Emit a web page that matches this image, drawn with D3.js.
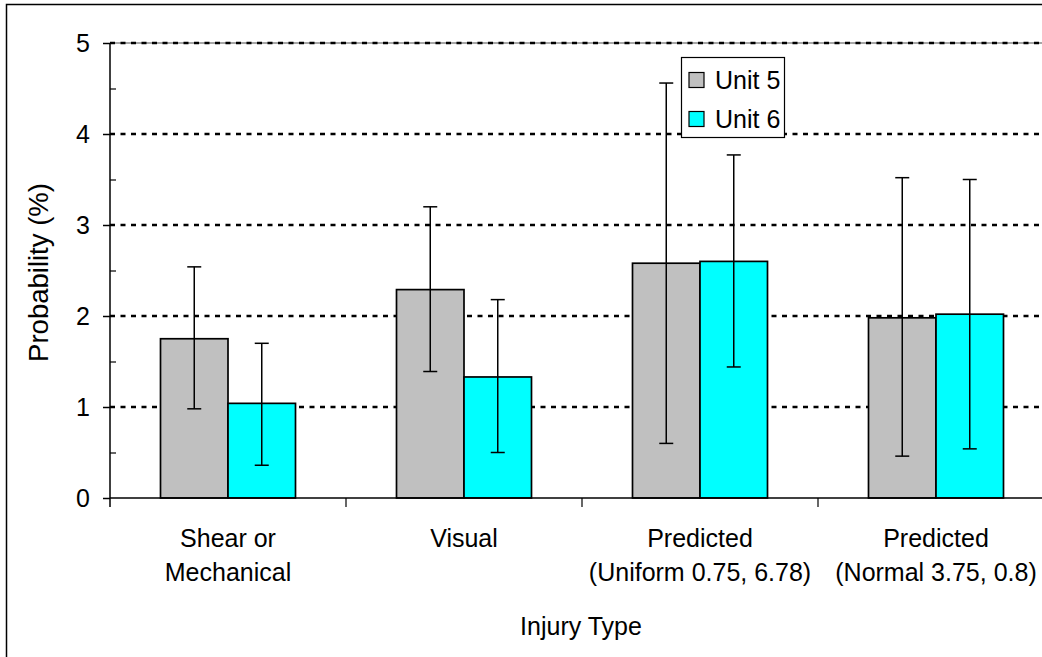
<!DOCTYPE html>
<html>
<head>
<meta charset="utf-8">
<script src="https://cdn.jsdelivr.net/npm/d3@7"></script>
<style>
  body { margin: 0; background: #fff; }
  svg { display: block; font-family: "Liberation Sans", Arial, sans-serif; }
</style>
</head>
<body>
<svg width="1042" height="657"></svg>
<script>
/*global d3*/

// categories (label lines)
var categories = [
  ['Shear or', 'Mechanical'],
  ['Visual'],
  ['Predicted', '(Uniform 0.75, 6.78)'],
  ['Predicted', '(Normal 3.75, 0.8)']
]
var seriesNames = ['Unit 5', 'Unit 6']
var unit5 = [1.75, 2.29, 2.58, 1.98]
var unit5Hi = [2.54, 3.20, 4.56, 3.52]
var unit5Lo = [0.98, 1.39, 0.60, 0.46]
var unit6 = [1.04, 1.33, 2.60, 2.02]
var unit6Hi = [1.70, 2.18, 3.77, 3.50]
var unit6Lo = [0.36, 0.50, 1.44, 0.54]
var yTicks = [0, 1, 2, 3, 4, 5]
var yMinor = [0.5, 1.5, 2.5, 3.5, 4.5]
var colors = ['#c0c0c0', '#00ffff']

;(function () {

  var svg = d3.select('svg')
  var left = 110, right = 1054, top = 43, bottom = 498

  svg.append('rect').attr('width', 1042).attr('height', 657).attr('fill', '#fff')
  // outer chart frame (runs off the right and bottom edges)
  svg.append('rect')
    .attr('x', 6.5).attr('y', 4.5).attr('width', 1100).attr('height', 700)
    .attr('fill', 'none').attr('stroke', '#000').attr('stroke-width', 1.5)

  var x = d3.scaleBand().domain(d3.range(categories.length)).range([left, right])
  var xs = d3.scaleBand().domain(seriesNames).range([50.5, 185.5])
  var y = d3.scaleLinear().domain([0, 5]).range([bottom, top])

  // plot area top edge
  svg.append('line')
    .attr('x1', left).attr('x2', 1042).attr('y1', y(5)).attr('y2', y(5))
    .attr('stroke', '#888').attr('stroke-width', 1.5)

  // gridlines
  svg.append('g').selectAll('line')
    .data(yTicks.filter(function (d) { return d > 0 }))
    .enter().append('line')
    .attr('x1', left).attr('x2', 1042)
    .attr('y1', function (d) { return y(d) }).attr('y2', function (d) { return y(d) })
    .attr('stroke', '#000').attr('stroke-width', 2.5)
    .attr('stroke-dasharray', '5,5.5')

  var rows = []
  categories.forEach(function (c, i) {
    rows.push({ cat: i, s: 'Unit 5', v: unit5[i], hi: unit5Hi[i], lo: unit5Lo[i], color: colors[0] })
    rows.push({ cat: i, s: 'Unit 6', v: unit6[i], hi: unit6Hi[i], lo: unit6Lo[i], color: colors[1] })
  })

  var bars = svg.append('g').selectAll('g')
    .data(rows).enter().append('g')
    .attr('transform', function (d) { return 'translate(' + (x(d.cat) + xs(d.s)) + ',0)' })

  bars.append('rect')
    .attr('x', 0).attr('width', xs.bandwidth())
    .attr('y', function (d) { return y(d.v) })
    .attr('height', function (d) { return y(0) - y(d.v) })
    .attr('fill', function (d) { return d.color })
    .attr('stroke', '#000').attr('stroke-width', 1.7)

  var cx = xs.bandwidth() / 2
  bars.append('line')
    .attr('x1', cx).attr('x2', cx)
    .attr('y1', function (d) { return y(d.hi) }).attr('y2', function (d) { return y(d.lo) })
    .attr('stroke', '#000').attr('stroke-width', 1.5)
  bars.selectAll('line.cap')
    .data(function (d) { return [d.hi, d.lo] })
    .enter().append('line').attr('class', 'cap')
    .attr('x1', cx - 7).attr('x2', cx + 7)
    .attr('y1', function (v) { return y(v) }).attr('y2', function (v) { return y(v) })
    .attr('stroke', '#000').attr('stroke-width', 1.5)

  // y axis
  var yAxis = svg.append('g').attr('transform', 'translate(' + left + ',0)')
    .call(d3.axisLeft(y).tickValues(yTicks).tickSize(7).tickPadding(13).tickFormat(d3.format('d')))
  yAxis.select('.domain').remove()
  yAxis.selectAll('.tick line').attr('stroke-width', 1.5)
  yAxis.selectAll('text').attr('font-size', 25).attr('font-family', null).attr('fill', '#000')
  var yMin = svg.append('g').attr('transform', 'translate(' + left + ',0)')
    .call(d3.axisRight(y).tickValues(yMinor).tickSize(6).tickFormat(''))
  yMin.select('.domain').remove()
  yMin.selectAll('.tick line').attr('stroke-width', 1.2)
  svg.append('line')
    .attr('x1', left).attr('x2', left).attr('y1', top).attr('y2', bottom + 9)
    .attr('stroke', '#000').attr('stroke-width', 1.5)

  // x axis
  svg.append('line')
    .attr('x1', left).attr('x2', 1042).attr('y1', bottom).attr('y2', bottom)
    .attr('stroke', '#000').attr('stroke-width', 1.5)
  svg.append('g').selectAll('line')
    .data(d3.range(1, categories.length))
    .enter().append('line')
    .attr('x1', function (i) { return x(i) }).attr('x2', function (i) { return x(i) })
    .attr('y1', bottom).attr('y2', bottom + 9)
    .attr('stroke', '#000').attr('stroke-width', 1.2)

  var labels = svg.append('g').selectAll('text')
    .data(categories).enter().append('text')
    .attr('text-anchor', 'middle')
    .attr('font-size', 25)
    .attr('transform', function (d, i) { return 'translate(' + (x(i) + x.bandwidth() / 2) + ',547)' })
  labels.selectAll('tspan')
    .data(function (d) { return d })
    .enter().append('tspan')
    .attr('x', 0)
    .attr('y', function (d, j) { return j * 34 })
    .text(function (d) { return d })

  svg.append('text')
    .attr('x', 581).attr('y', 635)
    .attr('text-anchor', 'middle').attr('font-size', 25)
    .text('Injury Type')

  svg.append('text')
    .attr('transform', 'translate(48,' + ((top + bottom) / 2 + 2) + ') rotate(-90)')
    .attr('text-anchor', 'middle').attr('font-size', 27.5)
    .text('Probability (%)')

  // legend
  var legend = svg.append('g').attr('transform', 'translate(681,57)')
  legend.append('rect')
    .attr('x', 0.5).attr('y', 0.5).attr('width', 103).attr('height', 80)
    .attr('fill', '#fff').attr('stroke', '#000').attr('stroke-width', 1.2)
  var item = legend.selectAll('g.item')
    .data(seriesNames).enter().append('g').attr('class', 'item')
    .attr('transform', function (d, i) { return 'translate(0,' + (23 + i * 39) + ')' })
  item.append('rect')
    .attr('x', 8).attr('y', -7.5).attr('width', 15).attr('height', 15)
    .attr('fill', function (d, i) { return colors[i] })
    .attr('stroke', '#000').attr('stroke-width', 1.2)
  item.append('text')
    .attr('x', 34).attr('y', 9)
    .attr('font-size', 25)
    .text(function (d) { return d })

})()
</script>
</body>
</html>
